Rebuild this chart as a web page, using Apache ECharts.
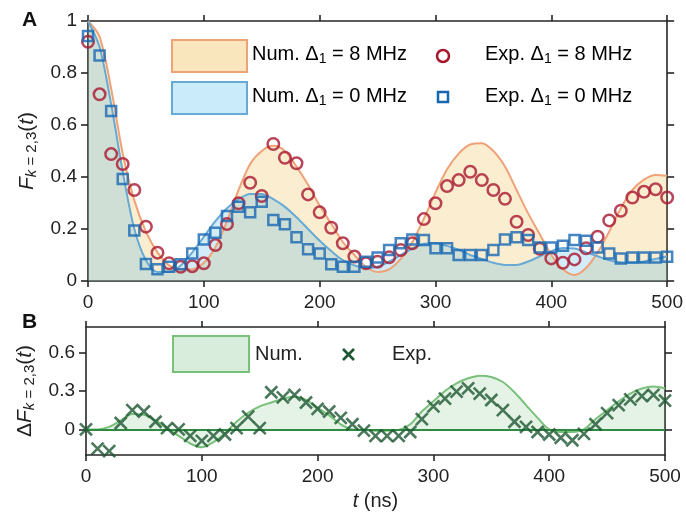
<!DOCTYPE html>
<html>
<head>
<meta charset="utf-8">
<script src="https://cdn.jsdelivr.net/npm/echarts@6/dist/echarts.min.js"></script>
<style>
  html, body { margin: 0; padding: 0; background: #fff; }
  #chart { width: 686px; height: 512px; }
</style>
</head>
<body>
<div id="chart"></div>
<script>
// 时间轴 (ns)
var times = [0, 10, 20, 30, 40, 50, 60, 70, 80, 90, 100, 110, 120, 130, 140, 150, 160, 170, 180, 190,
    200, 210, 220, 230, 240, 250, 260, 270, 280, 290, 300, 310, 320, 330, 340, 350, 360, 370, 380, 390,
    400, 410, 420, 430, 440, 450, 460, 470, 480, 490, 500];

// A: 数值曲线
var num8 = [1.0, 0.94, 0.74, 0.49, 0.31, 0.19, 0.11, 0.06, 0.045, 0.045, 0.07, 0.13, 0.23, 0.35, 0.45, 0.5, 0.52, 0.5, 0.44, 0.37,
    0.29, 0.22, 0.15, 0.1, 0.055, 0.035, 0.045, 0.085, 0.15, 0.24, 0.34, 0.43, 0.49, 0.525, 0.53, 0.5, 0.44, 0.35, 0.26, 0.18,
    0.1, 0.045, 0.023, 0.05, 0.11, 0.19, 0.28, 0.35, 0.39, 0.408, 0.405];
var num0 = [1.0, 0.9, 0.68, 0.42, 0.2, 0.08, 0.035, 0.035, 0.06, 0.11, 0.17, 0.23, 0.28, 0.315, 0.335, 0.335, 0.315, 0.285, 0.245, 0.2,
    0.155, 0.115, 0.08, 0.06, 0.05, 0.055, 0.075, 0.1, 0.125, 0.143, 0.145, 0.135, 0.12, 0.1, 0.085, 0.07, 0.062, 0.062, 0.075, 0.095,
    0.115, 0.127, 0.125, 0.11, 0.095, 0.08, 0.072, 0.07, 0.075, 0.085, 0.095];

// A: 实验点
var exp8 = [0.92, 0.718, 0.488, 0.45, 0.35, 0.209, 0.109, 0.068, 0.055, 0.057, 0.068, 0.138, 0.219, 0.299, 0.378, 0.327, 0.527, 0.474, 0.453, 0.333,
    0.264, 0.205, 0.145, 0.094, 0.068, 0.074, 0.091, 0.119, 0.145, 0.238, 0.299, 0.365, 0.388, 0.42, 0.388, 0.35, 0.316, 0.228, 0.177, 0.124,
    0.087, 0.07, 0.083, 0.126, 0.17, 0.233, 0.27, 0.321, 0.343, 0.353, 0.321];
var exp0 = [0.942, 0.867, 0.654, 0.392, 0.194, 0.065, 0.045, 0.055, 0.064, 0.106, 0.16, 0.186, 0.25, 0.286, 0.264, 0.305, 0.235, 0.218, 0.168, 0.122,
    0.106, 0.064, 0.055, 0.055, 0.074, 0.09, 0.119, 0.145, 0.16, 0.158, 0.126, 0.126, 0.1, 0.1, 0.1, 0.119, 0.16, 0.168, 0.158, 0.129,
    0.129, 0.136, 0.158, 0.155, 0.129, 0.106, 0.087, 0.09, 0.09, 0.09, 0.093];

// B: ΔF
var diffNum = [0, 0, 0.02, 0.07, 0.12, 0.115, 0.07, 0.01, -0.05, -0.11, -0.14, -0.1, -0.03, 0.06, 0.13, 0.18, 0.21, 0.24, 0.255, 0.23,
    0.17, 0.11, 0.04, 0.0, -0.005, -0.01, -0.01, -0.005, 0.04, 0.14, 0.22, 0.3, 0.36, 0.4, 0.42, 0.41, 0.37, 0.29, 0.19, 0.09,
    0.0, -0.02, -0.02, 0.0, 0.08, 0.15, 0.22, 0.28, 0.32, 0.335, 0.32];
var diffExp = [0, -0.15, -0.17, 0.05, 0.15, 0.14, 0.06, 0.01, 0, -0.05, -0.09, -0.05, -0.04, 0.01, 0.1, 0.01, 0.29, 0.25, 0.27, 0.21,
    0.16, 0.14, 0.09, 0.04, -0.01, -0.05, -0.05, -0.05, -0.02, 0.08, 0.18, 0.24, 0.295, 0.32, 0.28, 0.23, 0.15, 0.06, 0.02, -0.02,
    -0.04, -0.065, -0.085, -0.035, 0.04, 0.127, 0.19, 0.235, 0.26, 0.27, 0.225];

var yTicksB = [0, 0.3, 0.6];

function pairs(vals) {
    return times.map(function (t, i) { return [t, vals[i]]; });
}

var FONT = 'Liberation Sans, Arial, sans-serif';
var AXIS = '#262626';
var RED = '#a8172f';
var BLUE = '#1666b2';
var DKGREEN = '#1d5632';
var crossPath = 'path://M0,0L10,10M10,0L0,10';

var subRich = {
    n: { fontSize: 20, fontFamily: FONT, color: '#222', lineHeight: 22, verticalAlign: 'top' },
    i: { fontSize: 20, fontFamily: FONT, color: '#222', fontStyle: 'italic', lineHeight: 22, verticalAlign: 'top' },
    s: { fontSize: 14, fontFamily: FONT, color: '#222', lineHeight: 14, padding: [12, 0, 0, 0], verticalAlign: 'bottom' },
    si: { fontSize: 14, fontFamily: FONT, color: '#222', fontStyle: 'italic', lineHeight: 14, padding: [12, 0, 0, 0], verticalAlign: 'bottom' }
};

var nameRich = {
    n: { fontSize: 21, fontFamily: FONT, color: '#222', lineHeight: 23, verticalAlign: 'top' },
    i: { fontSize: 21, fontFamily: FONT, color: '#222', fontStyle: 'italic', lineHeight: 23, verticalAlign: 'top' },
    s: { fontSize: 15, fontFamily: FONT, color: '#222', lineHeight: 15, padding: [12, 0, 0, 0], verticalAlign: 'bottom' },
    si: { fontSize: 15, fontFamily: FONT, color: '#222', fontStyle: 'italic', lineHeight: 15, padding: [12, 0, 0, 0], verticalAlign: 'bottom' }
};

function xAx(grid, pos, labels, extra) {
    var a = {
        type: 'value', gridIndex: grid, position: pos, min: 0, max: 500, interval: 100,
        axisLine: { show: true, onZero: false, lineStyle: { color: AXIS, width: 1.6 } },
        axisTick: { show: true, inside: false, length: 6, lineStyle: { color: AXIS, width: 1.6 } },
        axisLabel: { show: labels, fontSize: 19, fontFamily: FONT, color: '#222', margin: 12 },
        splitLine: { show: false }
    };
    return Object.assign(a, extra || {});
}

function yAx(grid, pos, labels, extra) {
    var a = {
        type: 'value', gridIndex: grid, position: pos,
        axisLine: { show: true, onZero: false, lineStyle: { color: AXIS, width: 1.6 } },
        axisTick: { show: true, inside: false, length: 7, lineStyle: { color: AXIS, width: 1.6 } },
        axisLabel: { show: labels, fontSize: 19, fontFamily: FONT, color: '#222', margin: 11 },
        splitLine: { show: false }
    };
    return Object.assign(a, extra || {});
}

var chart = echarts.init(document.getElementById('chart'));
var option = {
    animation: false,
    backgroundColor: '#fff',
    grid: [
        { left: 88, top: 21, width: 580, height: 260 },
        { left: 86, top: 327, width: 579, height: 128 }
    ],
    xAxis: [
        xAx(0, 'bottom', true),
        xAx(0, 'top', false),
        xAx(1, 'bottom', true, {
            name: '{i|t}{n| (ns)}', nameLocation: 'middle', nameGap: 36,
            nameTextStyle: { rich: subRich }
        }),
        xAx(1, 'top', false)
    ],
    yAxis: [
        yAx(0, 'left', true, {
            min: 0, max: 1, interval: 0.2,
            name: '{i|F}{si|k}{s| = 2,3}{n|(}{i|t}{n|)}', nameLocation: 'middle', nameGap: 46, nameRotate: 90,
            nameTextStyle: { rich: nameRich }
        }),
        yAx(0, 'right', false, { min: 0, max: 1, interval: 0.2 }),
        yAx(1, 'left', true, {
            min: -0.2, max: 0.8,
            axisTick: { show: true, inside: false, length: 7, customValues: yTicksB, lineStyle: { color: AXIS, width: 1.6 } },
            axisLabel: { show: true, fontSize: 19, fontFamily: FONT, color: '#222', margin: 11, customValues: yTicksB },
            name: '{n|Δ}{i|F}{si|k}{s| = 2,3}{n|(}{i|t}{n|)}', nameLocation: 'middle', nameGap: 46, nameRotate: 90,
            nameTextStyle: { rich: nameRich }
        }),
        yAx(1, 'right', false, {
            min: -0.2, max: 0.8,
            axisTick: { show: true, inside: false, length: 7, customValues: yTicksB, lineStyle: { color: AXIS, width: 1.6 } }
        })
    ],
    series: [
        {
            name: 'Num. 8 MHz', type: 'line', xAxisIndex: 0, yAxisIndex: 0, data: pairs(num8),
            smooth: 0.3, symbol: 'none',
            lineStyle: { color: '#efa278', width: 2 },
            areaStyle: { color: 'rgba(237,177,32,0.3)' }, z: 2
        },
        {
            name: 'Num. 0 MHz', type: 'line', xAxisIndex: 0, yAxisIndex: 0, data: pairs(num0),
            smooth: 0.3, symbol: 'none',
            lineStyle: { color: '#67aad6', width: 2 },
            areaStyle: { color: 'rgba(60,175,230,0.33)' }, z: 2
        },
        {
            name: 'Exp. 8 MHz', type: 'scatter', xAxisIndex: 0, yAxisIndex: 0, data: pairs(exp8),
            symbol: 'circle', symbolSize: 11.5,
            itemStyle: { color: 'rgba(0,0,0,0)', borderColor: RED, borderWidth: 2.5 }, z: 4
        },
        {
            name: 'Exp. 0 MHz', type: 'scatter', xAxisIndex: 0, yAxisIndex: 0, data: pairs(exp0),
            symbol: 'rect', symbolSize: 10,
            itemStyle: { color: 'rgba(0,0,0,0)', borderColor: BLUE, borderWidth: 2.5 }, z: 5
        },
        {
            name: 'ΔNum', type: 'line', xAxisIndex: 2, yAxisIndex: 2, data: pairs(diffNum),
            smooth: 0.3, symbol: 'none',
            lineStyle: { color: '#79c07b', width: 2 },
            areaStyle: { color: 'rgba(120,190,130,0.28)' }, z: 2,
            markLine: {
                silent: true, symbol: 'none', label: { show: false },
                lineStyle: { color: '#2f8a42', width: 1.8, type: 'solid' },
                data: [{ yAxis: 0 }]
            }
        },
        {
            name: 'ΔExp', type: 'scatter', xAxisIndex: 2, yAxisIndex: 2, data: pairs(diffExp),
            symbol: crossPath, symbolSize: 12,
            itemStyle: { color: DKGREEN, borderColor: DKGREEN, borderWidth: 2.6 }, z: 5
        }
    ],
    graphic: [
        { type: 'text', x: 22, y: 10, style: { text: 'A', font: 'bold 21px ' + FONT, fill: '#111' } },
        { type: 'text', x: 22, y: 312, style: { text: 'B', font: 'bold 21px ' + FONT, fill: '#111' } },
        // 图例 A
        { type: 'rect', shape: { x: 172, y: 40, width: 75, height: 32 }, style: { fill: 'rgb(250,230,188)', stroke: '#efa278', lineWidth: 2 } },
        { type: 'rect', shape: { x: 172, y: 82, width: 75, height: 32 }, style: { fill: 'rgb(201,235,250)', stroke: '#67aad6', lineWidth: 2 } },
        { type: 'circle', shape: { cx: 443, cy: 56, r: 6 }, style: { fill: 'none', stroke: RED, lineWidth: 2.5 } },
        { type: 'rect', shape: { x: 438, y: 92, width: 10, height: 10 }, style: { fill: 'none', stroke: BLUE, lineWidth: 2.5 } },
        { type: 'text', x: 252, y: 44, style: { text: '{n|Num. Δ}{s|1}{n| = 8 MHz}', rich: subRich } },
        { type: 'text', x: 252, y: 86, style: { text: '{n|Num. Δ}{s|1}{n| = 0 MHz}', rich: subRich } },
        { type: 'text', x: 485, y: 44, style: { text: '{n|Exp. Δ}{s|1}{n| = 8 MHz}', rich: subRich } },
        { type: 'text', x: 485, y: 86, style: { text: '{n|Exp. Δ}{s|1}{n| = 0 MHz}', rich: subRich } },
        // 图例 B
        { type: 'rect', shape: { x: 173, y: 336, width: 76, height: 36 }, style: { fill: 'rgb(217,237,220)', stroke: '#79c07b', lineWidth: 2 } },
        { type: 'line', shape: { x1: 343, y1: 349, x2: 354, y2: 360 }, style: { stroke: DKGREEN, lineWidth: 2.6 } },
        { type: 'line', shape: { x1: 354, y1: 349, x2: 343, y2: 360 }, style: { stroke: DKGREEN, lineWidth: 2.6 } },
        { type: 'text', x: 255, y: 344, style: { text: 'Num.', font: '20px ' + FONT, fill: '#222' } },
        { type: 'text', x: 392, y: 344, style: { text: 'Exp.', font: '20px ' + FONT, fill: '#222' } }
    ]
};
chart.setOption(option);
</script>
</body>
</html>
